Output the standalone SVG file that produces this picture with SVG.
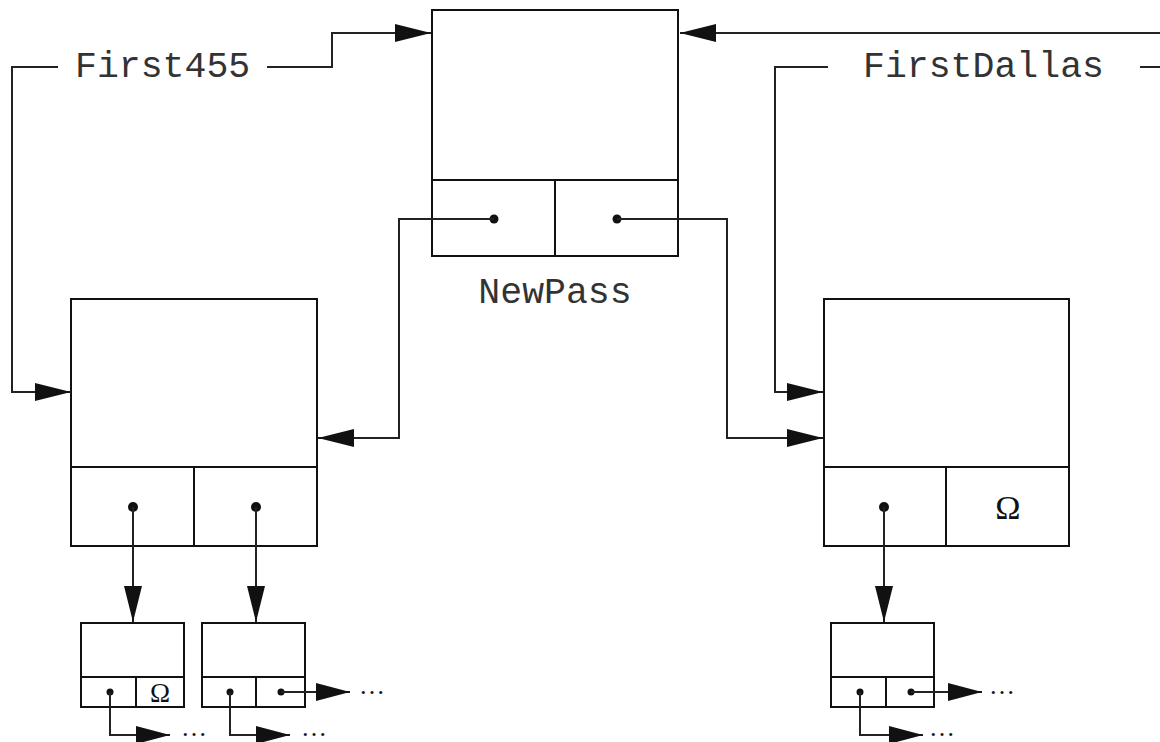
<svg xmlns="http://www.w3.org/2000/svg" width="1160" height="742" viewBox="0 0 1160 742">
<style>
.box{fill:none;stroke:#111;stroke-width:2}
.con{fill:none;stroke:#222;stroke-width:2}
.lbl{font-family:"Liberation Mono","Courier New",monospace;font-size:36.5px;fill:#333}
.om{font-family:"Liberation Serif","Times New Roman",serif;fill:#111;text-anchor:middle}
.ell{font-family:"Liberation Serif","Times New Roman",serif;font-size:26px;fill:#111}
.dot{fill:#111}
</style>
<defs>
<marker id="ah" markerUnits="userSpaceOnUse" markerWidth="38" markerHeight="20" refX="36" refY="9" orient="auto">
<path d="M0,0 L36,9 L0,18 z" fill="#111"/>
</marker>
<marker id="as" markerUnits="userSpaceOnUse" markerWidth="36" markerHeight="20" refX="34" refY="9" orient="auto">
<path d="M0,0 L34,9 L0,18 z" fill="#111"/>
</marker>
</defs>
<g id="labels">
<text class="lbl" x="75" y="77">First455</text>
<text class="lbl" x="863" y="77">FirstDallas</text>
<text class="lbl" x="555" y="303" text-anchor="middle">NewPass</text>
</g>
<g id="NewPass">
<rect class="box" x="432" y="10" width="246" height="246"/>
<line class="box" x1="432" y1="180" x2="678" y2="180"/>
<line class="box" x1="555" y1="180" x2="555" y2="256"/>
<circle class="dot" cx="494" cy="219" r="4.5"/>
<circle class="dot" cx="617" cy="219" r="4.5"/>
</g>
<g id="left-node">
<rect class="box" x="71" y="299" width="246" height="247"/>
<line class="box" x1="71" y1="467" x2="317" y2="467"/>
<line class="box" x1="194" y1="467" x2="194" y2="546"/>
<circle class="dot" cx="133" cy="507" r="5"/>
<circle class="dot" cx="256" cy="507" r="5"/>
</g>
<g id="right-node">
<rect class="box" x="824" y="299" width="245" height="247"/>
<line class="box" x1="824" y1="467" x2="1069" y2="467"/>
<line class="box" x1="946" y1="467" x2="946" y2="546"/>
<circle class="dot" cx="884" cy="507" r="5"/>
<text class="om" x="1008" y="519" font-size="34">Ω</text>
</g>
<g id="small1">
<rect class="box" x="81" y="623" width="103" height="84"/>
<line class="box" x1="81" y1="677" x2="184" y2="677"/>
<line class="box" x1="136" y1="677" x2="136" y2="707"/>
<circle class="dot" cx="110" cy="692" r="3.5"/>
<text class="om" x="160" y="702" font-size="27">Ω</text>
<text class="ell" x="181" y="736">…</text>
</g>
<g id="small2">
<rect class="box" x="202" y="623" width="103" height="84"/>
<line class="box" x1="202" y1="677" x2="305" y2="677"/>
<line class="box" x1="256" y1="677" x2="256" y2="707"/>
<circle class="dot" cx="230" cy="692" r="3.5"/>
<circle class="dot" cx="281" cy="692" r="3.5"/>
<text class="ell" x="359" y="694">…</text>
<text class="ell" x="301" y="736">…</text>
</g>
<g id="small3">
<rect class="box" x="831" y="623" width="103" height="84"/>
<line class="box" x1="831" y1="677" x2="934" y2="677"/>
<line class="box" x1="886" y1="677" x2="886" y2="707"/>
<circle class="dot" cx="860" cy="692" r="3.5"/>
<circle class="dot" cx="911" cy="692" r="3.5"/>
<text class="ell" x="989" y="694">…</text>
<text class="ell" x="929" y="736">…</text>
</g>
<g id="connectors">
<path class="con" d="M58,67 H12 V392 H71" marker-end="url(#ah)"/>
<path class="con" d="M267,67 H332 V33 H431" marker-end="url(#ah)"/>
<path class="con" d="M1160,33 H680" marker-end="url(#ah)"/>
<path class="con" d="M828,67 H775 V392 H823" marker-end="url(#ah)"/>
<path class="con" d="M1140,67 H1160"/>
<path class="con" d="M494,219 H399 V438 H318" marker-end="url(#ah)"/>
<path class="con" d="M617,219 H727 V438 H823" marker-end="url(#ah)"/>
<path class="con" d="M133,507 V622" marker-end="url(#ah)"/>
<path class="con" d="M256,507 V622" marker-end="url(#ah)"/>
<path class="con" d="M884,507 V622" marker-end="url(#ah)"/>
<path class="con" d="M110,692 V735 H170" marker-end="url(#as)"/>
<path class="con" d="M230,692 V735 H290" marker-end="url(#as)"/>
<path class="con" d="M281,692 H350" marker-end="url(#as)"/>
<path class="con" d="M860,692 V735 H923" marker-end="url(#as)"/>
<path class="con" d="M911,692 H982" marker-end="url(#as)"/>
</g>
</svg>
